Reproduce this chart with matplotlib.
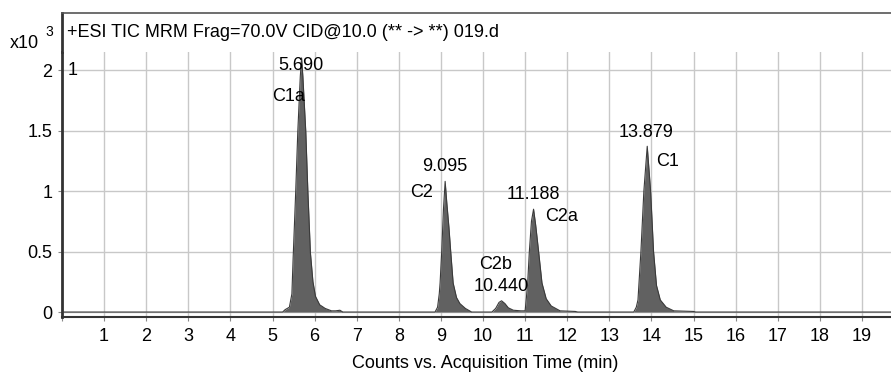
import matplotlib.pyplot as plt

plt.rcParams['font.family'] = ['Liberation Sans', 'DejaVu Sans']

# TIC trace: time (min), counts (x10^3)
time = [0.00, 5.24, 5.30, 5.40, 5.46, 5.49, 5.55, 5.60, 5.66, 5.69, 5.72, 5.79,
        5.84, 5.90, 5.96, 6.02, 6.12, 6.25, 6.40, 6.50, 6.60, 6.67,
        8.86, 8.92, 8.96, 8.98, 9.02, 9.06, 9.10, 9.14, 9.19, 9.23, 9.29,
        9.37, 9.45, 9.58, 9.73,
        10.21, 10.30, 10.38, 10.44, 10.52, 10.60, 10.72, 10.90,
        11.00, 11.03, 11.06, 11.10, 11.15, 11.20, 11.25, 11.32, 11.40, 11.50,
        11.62, 11.83, 12.19, 12.25,
        13.58, 13.64, 13.68, 13.75, 13.82, 13.90, 13.98, 14.05, 14.12, 14.21,
        14.35, 14.53, 15.00, 15.05, 19.69]
counts = [0.00, 0.00, 0.02, 0.04, 0.15, 0.45, 0.99, 1.49, 1.95, 2.10, 1.95, 1.49,
          0.99, 0.49, 0.25, 0.13, 0.06, 0.03, 0.01, 0.01, 0.015, 0.00,
          0.00, 0.04, 0.15, 0.24, 0.51, 0.85, 1.08, 0.90, 0.70, 0.51, 0.24,
          0.12, 0.07, 0.03, 0.00,
          0.00, 0.03, 0.08, 0.093, 0.07, 0.035, 0.015, 0.01,
          0.01, 0.12, 0.24, 0.50, 0.75, 0.85, 0.72, 0.50, 0.24, 0.11,
          0.05, 0.01, 0.005, 0.00,
          0.00, 0.04, 0.10, 0.50, 1.00, 1.37, 1.00, 0.50, 0.22, 0.10,
          0.04, 0.01, 0.005, 0.00, 0.00]

# peak annotations: retention time labels and compound names
rt_labels = ["5.690", "9.095", "10.440", "11.188", "13.879"]
rt_pos = [(5.68, 2.04), (9.09, 1.20), (10.44, 0.21), (11.19, 0.97), (13.87, 1.48)]
names = ["C1a", "C2", "C2b", "C2a", "C1"]
name_pos = [(5.37, 1.78), (8.53, 0.99), (10.30, 0.39), (11.87, 0.79), (14.39, 1.24)]

xticks = list(range(0, 20))
yticks = [0, 0.5, 1, 1.5, 2]
ytick_labels = ["0", "0.5", "1", "1.5", "2"]

title = "+ESI TIC MRM Frag=70.0V CID@10.0 (** -> **) 019.d"
fs = 13

fig = plt.figure(figsize=(8.91, 3.73), dpi=100)
ax = fig.add_axes([0.0696, 0.1501, 0.9304, 0.7105])
hdr = fig.add_axes([0.0696, 0.8606, 0.9304, 0.1046])

# header strip
hdr.set_xticks([])
hdr.set_yticks([])
for s in ["right", "bottom"]:
    hdr.spines[s].set_visible(False)
hdr.spines["top"].set_color("#555555")
hdr.spines["top"].set_linewidth(1.2)
hdr.spines["left"].set_color("#333333")
hdr.spines["left"].set_linewidth(2)
hdr.text(0.006, 0.5, title, fontsize=fs, ha="left", va="center",
         transform=hdr.transAxes)
fig.text(0.011, 0.883, "x10", fontsize=fs, ha="left", va="center")
fig.text(0.051, 0.914, "3", fontsize=10, ha="left", va="center")

# main trace
ax.fill_between(time, counts, 0, color="#616161", lw=0, zorder=3)
ax.plot(time, counts, color="#3a3a3a", lw=0.8, zorder=4)

for lab, (x, y) in zip(rt_labels, rt_pos):
    ax.text(x, y, lab, fontsize=fs, ha="center", va="center", zorder=5)
for lab, (x, y) in zip(names, name_pos):
    ax.text(x, y, lab, fontsize=fs, ha="center", va="center", zorder=5)
ax.text(0.14, 2.0, "1", fontsize=fs, ha="left", va="center")

ax.set_xlim(0, 19.69)
ax.set_ylim(-0.041, 2.149)
ax.set_xticks(xticks)
ax.set_xticklabels([str(t) if t > 0 else "" for t in xticks])
ax.set_yticks(yticks)
ax.set_yticklabels(ytick_labels)
ax.grid(True, color="#c8c8c8", lw=1, zorder=0)
ax.set_axisbelow(True)
ax.tick_params(axis="both", labelsize=fs, length=3, color="#888888", pad=5)
ax.tick_params(axis="y", pad=4)

for s in ["top", "right"]:
    ax.spines[s].set_visible(False)
ax.spines["left"].set_color("#333333")
ax.spines["left"].set_linewidth(2)
ax.spines["bottom"].set_color("#333333")
ax.spines["bottom"].set_linewidth(1.5)

ax.set_xlabel("Counts vs. Acquisition Time (min)", fontsize=fs)
ax.xaxis.set_label_coords(0.511, -0.145)

fig.savefig("out.png", dpi=100)
